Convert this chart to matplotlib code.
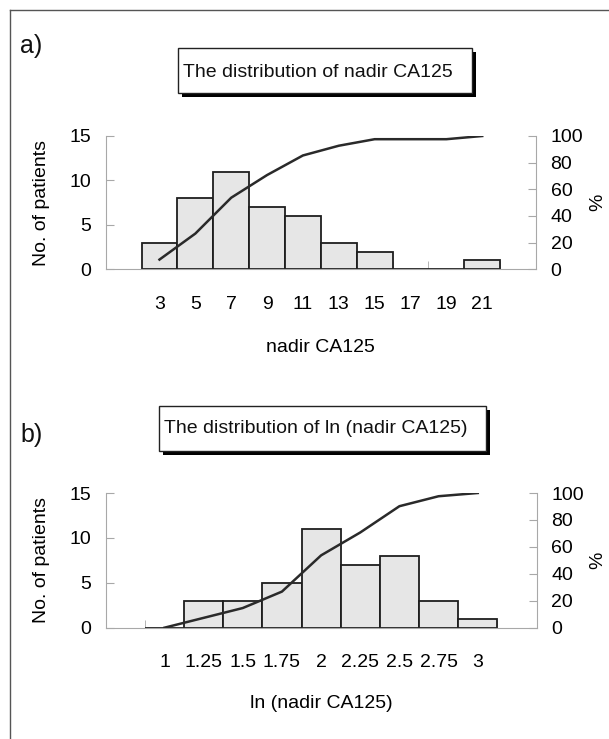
import numpy as np
import matplotlib
matplotlib.use("Agg")
import matplotlib.pyplot as plt
from matplotlib.patches import Rectangle
from matplotlib.lines import Line2D

# panel a: nadir CA125
labels_a = ["3", "5", "7", "9", "11", "13", "15", "17", "19", "21"]
counts_a = [3, 8, 11, 7, 6, 3, 2, 0, 0, 1]
cum_a = [7.3, 26.8, 53.7, 70.7, 85.4, 92.7, 97.6, 97.6, 97.6, 100]

# panel b: ln (nadir CA125)
labels_b = ["1", "1.25", "1.5", "1.75", "2", "2.25", "2.5", "2.75", "3"]
counts_b = [0, 3, 3, 5, 11, 7, 8, 3, 1]
cum_b = [0, 7.3, 14.6, 26.8, 53.7, 70.7, 90.2, 97.6, 100]

W, H = 609, 739
plt.rcParams["font.family"] = ["Liberation Sans", "DejaVu Sans"]
plt.rcParams["font.size"] = 14
plt.rcParams["text.color"] = "#111111"

fig = plt.figure(figsize=(W / 100, H / 100), dpi=100)
fig.patch.set_facecolor("white")


def fx(x):
    return x / W


def fy(y):
    return 1 - y / H


def title_box(x0, y0, x1, y1, tx, ty, text):
    """Caixa do titulo com sombra preta."""
    shadow = Rectangle((fx(x0 + 4), fy(y1 + 4)), fx(x1 - x0), (y1 - y0) / H,
                       transform=fig.transFigure, facecolor="black",
                       edgecolor="black", lw=0)
    box = Rectangle((fx(x0), fy(y1)), fx(x1 - x0), (y1 - y0) / H,
                    transform=fig.transFigure, facecolor="white",
                    edgecolor="#222222", lw=1.0)
    fig.add_artist(shadow)
    fig.add_artist(box)
    fig.text(fx(tx), fy(ty), text, ha="left", va="baseline", fontsize=14)


def panel(rect, labels, counts, cum, xlabel, xlabel_y, pct_x):
    n = len(labels)
    pos = np.arange(1, n + 1)
    ax = fig.add_axes(rect)
    ax.bar(pos, counts, width=1.0, color="#e6e6e6", edgecolor="#1e1e1e",
           linewidth=1.3, zorder=2)
    ax.set_xlim(-0.5, n + 1.5)
    ax.set_ylim(0, 15)
    ax.set_yticks([0, 5, 10, 15])
    ax.set_xticks(pos)
    ax.set_xticklabels(labels)
    ax.set_xticks(np.arange(0.5, n + 1.5, 1.0), minor=True)
    ax.tick_params(axis="x", which="major", length=0, pad=19)
    ax.tick_params(axis="x", which="minor", direction="in", length=6,
                   color="#a8a8a8")
    ax.tick_params(axis="y", direction="in", length=6, color="#a8a8a8",
                   pad=10.5)
    ax.set_axisbelow(True)
    for s in ["top", "right"]:
        ax.spines[s].set_visible(False)
    for s in ["left", "bottom"]:
        ax.spines[s].set_color("#a8a8a8")
    ax.set_ylabel("No. of patients", fontsize=14)
    ax.yaxis.label.set_va("center")
    ax.yaxis.set_label_coords((42 - 105.7) / 430.3, 0.5)
    ax.set_xlabel(xlabel, fontsize=14)
    ax.xaxis.label.set_va("center")
    ax.xaxis.set_label_coords(0.5, xlabel_y)

    ax2 = ax.twinx()
    ax2.plot(pos, cum, color="#2a2a2a", lw=1.8, zorder=3)
    ax2.set_ylim(0, 100)
    ax2.set_yticks([0, 20, 40, 60, 80, 100])
    ax2.tick_params(axis="y", direction="in", length=6, color="#a8a8a8",
                    pad=10.5)
    for s in ["top", "left", "bottom"]:
        ax2.spines[s].set_visible(False)
    ax2.spines["right"].set_color("#a8a8a8")
    ax2.set_ylabel("%", fontsize=14, rotation=90)
    ax2.yaxis.label.set_va("center")
    ax2.yaxis.set_label_coords(pct_x, 0.5)
    return ax, ax2


panel([fx(105.7), fy(269.3), 430.3 / W, 133.3 / H],
      labels_a, counts_a, cum_a, "nadir CA125", (269.3 - 347) / 133.3,
      (598 - 105.7) / 430.3)
panel([fx(105.7), fy(627.7), 430.8 / W, 134.7 / H],
      labels_b, counts_b, cum_b, "ln (nadir CA125)", (627.7 - 703) / 134.7,
      (598 - 105.7) / 430.8)

title_box(178, 48, 472, 93, 183, 76.7, "The distribution of nadir CA125")
title_box(159, 406, 486, 451, 164, 433, "The distribution of ln (nadir CA125)")

fig.text(fx(20), fy(52.7), "a)", fontsize=18, ha="left", va="baseline")
fig.text(fx(20), fy(441.7), "b)", fontsize=18, ha="left", va="baseline")

# moldura da figura
fig.add_artist(Line2D([fx(10), fx(10)], [fy(10), 0], transform=fig.transFigure,
                      color="#555555", lw=1.0))
fig.add_artist(Line2D([fx(10), 1], [fy(10), fy(10)], transform=fig.transFigure,
                      color="#555555", lw=1.0))

fig.savefig("out.png", dpi=100)
